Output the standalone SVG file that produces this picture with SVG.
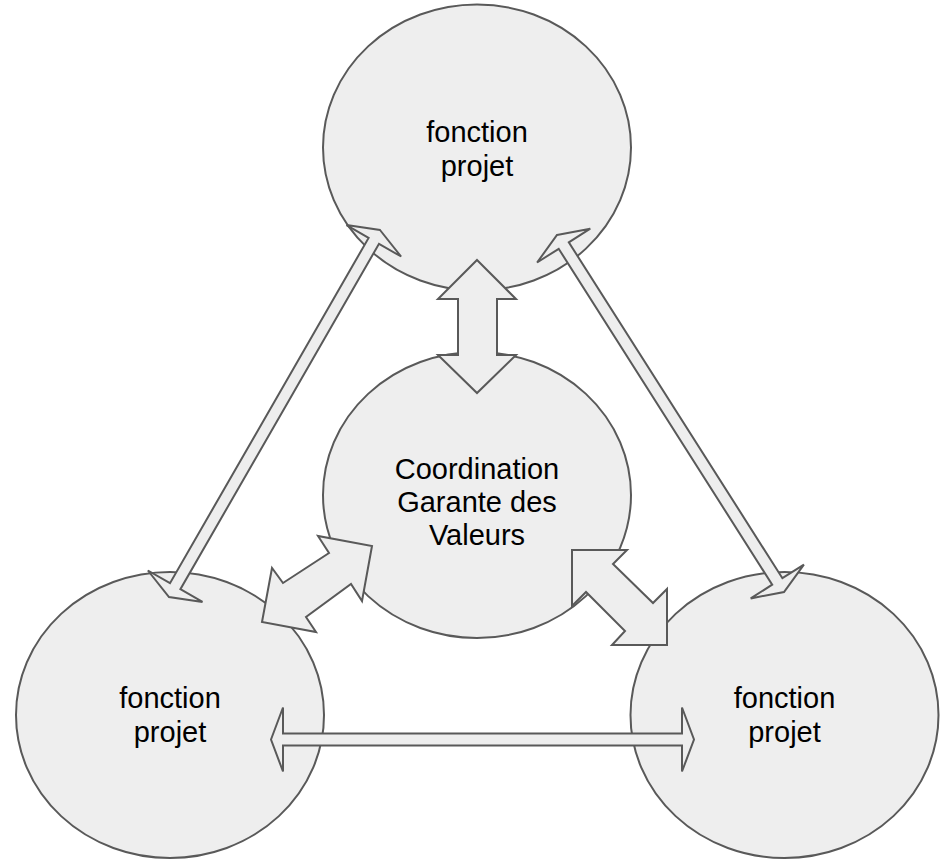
<svg xmlns="http://www.w3.org/2000/svg" width="944" height="860" viewBox="0 0 944 860">
<style>
.node{fill:#eeeeee;stroke:#595959;stroke-width:2}
.arr{fill:#eeeeee;stroke:#595959;stroke-width:2;stroke-linejoin:miter}
text{font-family:"Liberation Sans",Arial,sans-serif;font-size:29px;fill:#000;text-anchor:middle}
</style>
<rect width="944" height="860" fill="#ffffff"/>
<g id="node-top">
<ellipse class="node" cx="477" cy="147.5" rx="154" ry="143"/>
<text x="477" y="142">fonction</text>
<text x="477" y="176">projet</text>
</g>
<g id="node-center">
<ellipse class="node" cx="477" cy="495" rx="154" ry="143"/>
<text x="477" y="479">Coordination</text>
<text x="477" y="512">Garante des</text>
<text x="477" y="545">Valeurs</text>
</g>
<g id="node-left">
<ellipse class="node" cx="170" cy="715" rx="154" ry="143"/>
<text x="170" y="708">fonction</text>
<text x="170" y="742">projet</text>
</g>
<g id="node-right">
<ellipse class="node" cx="784.5" cy="715" rx="154" ry="143"/>
<text x="784.5" y="708">fonction</text>
<text x="784.5" y="742">projet</text>
</g>
<g id="connectors">
<polygon class="arr" points="477,260 516,299 497,299 497,355 516,355 477,393 438,355 458,355 458,299 438,299"/>
<polygon class="arr" points="372,546 362,601 351,584 306,617 316,632 262,622 272,568 283,583 329,553 318,536"/>
<polygon class="arr" points="572,550 627,550 613,564 653,603 667,589 667,645 612,645 625,631 586,592 572,606"/>
<polygon class="arr" points="380,230 401.1,256.5 379,243.8 180.4,589.2 202.5,601.9 169,597 147.9,570.5 170,583.2 368.6,237.9 346.5,225.1"/>
<polygon class="arr" points="557,235 590.3,228.7 568.8,242.3 782.4,578.2 803.9,564.6 784,592 750.7,598.4 772.2,584.7 558.7,248.8 537.1,262.5"/>
<polygon class="arr" points="271,739.5 283,707.5 283,733.5 682,733.5 682,707.5 694,739.5 682,771.5 682,745.5 283,745.5 283,771.5"/>
</g>
</svg>
